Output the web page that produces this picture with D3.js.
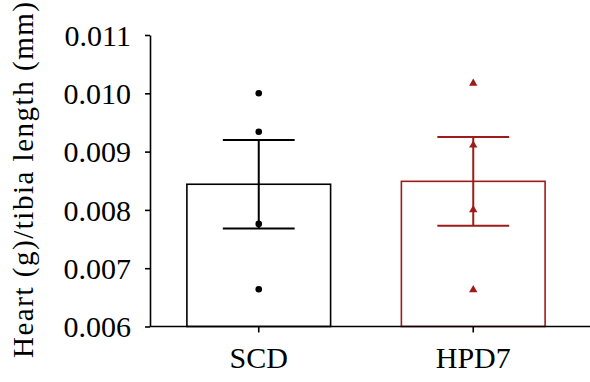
<!DOCTYPE html>
<html>
<head>
<meta charset="utf-8">
<script src="https://cdn.jsdelivr.net/npm/d3@7"></script>
<style>
  body { margin: 0; background: #fff; }
  text { font-family: "Liberation Serif", "DejaVu Serif", serif; }
</style>
</head>
<body>
<div id="chart"></div>
<script>
var groups = ["SCD", "HPD7"];
var means = [0.00844, 0.00849];
var sem = [0.00076, 0.00076];
var points = [
  [0.0100, 0.00934, 0.00776, 0.00664],
  [0.01017, 0.00911, 0.00800, 0.00663]
];
var colors = ["#000000", "#9e1b1b"];
var yTicks = [0.006, 0.007, 0.008, 0.009, 0.010, 0.011];

var width = 590, height = 382;

var svg = d3.select('#chart')
  .append('svg')
  .attr('width', width)
  .attr('height', height);

var y = d3.scaleLinear()
  .domain([0.006, 0.011])
  .range([326.5, 35]);

var x = d3.scaleBand()
  .domain(groups)
  .range([150, 582])
  .paddingInner(0.33)
  .paddingOuter(0.172);

// bars
svg.selectAll('rect.bar')
  .data(groups)
  .enter()
  .append('rect')
  .attr('class', 'bar')
  .attr('x', function(d){ return x(d); })
  .attr('y', function(d, i){ return y(means[i]); })
  .attr('width', x.bandwidth())
  .attr('height', function(d, i){ return y(0.006) - y(means[i]); })
  .style('fill', 'none')
  .style('stroke', function(d, i){ return colors[i]; })
  .style('stroke-width', 1.6);

// error bars
var capHalf = x.bandwidth() * 0.25;
groups.forEach(function(g, i){
  var cx = x(g) + x.bandwidth() / 2;
  var lo = means[i] - sem[i], hi = means[i] + sem[i];
  var eg = svg.append('g')
    .style('stroke', colors[i])
    .style('stroke-width', 2);
  eg.append('line')
    .attr('x1', cx).attr('x2', cx)
    .attr('y1', y(lo)).attr('y2', y(hi));
  eg.append('line')
    .attr('x1', cx - capHalf).attr('x2', cx + capHalf)
    .attr('y1', y(hi)).attr('y2', y(hi));
  eg.append('line')
    .attr('x1', cx - capHalf).attr('x2', cx + capHalf)
    .attr('y1', y(lo)).attr('y2', y(lo));

  var sym = i == 0 ? d3.symbolCircle : d3.symbolTriangle;
  var size = i == 0 ? 34 : 30;
  svg.selectAll('path.pt' + i)
    .data(points[i])
    .enter()
    .append('path')
    .attr('class', 'pt' + i)
    .attr('d', d3.symbol().type(sym).size(size))
    .attr('transform', function(d){ return 'translate(' + cx + ',' + y(d) + ')'; })
    .style('fill', colors[i]);
});

// y axis
var yAxis = svg.append('g')
  .attr('transform', 'translate(150,0)')
  .call(d3.axisLeft(y).tickValues(yTicks).tickFormat(d3.format('.3f')).tickSize(5).tickSizeOuter(0));
yAxis.select('.domain').style('stroke-width', 1.6);
yAxis.selectAll('.tick line').style('stroke-width', 1.6);
yAxis.selectAll('text')
  .attr('x', -19)
  .attr('dy', '0.34em')
  .style('font-size', '30px')
  .style('font-family', '"Liberation Serif", serif')
  .style('fill', '#000');

// x axis
var xAxis = svg.append('g')
  .attr('transform', 'translate(0,326.5)')
  .call(d3.axisBottom(x).tickSize(6).tickSizeOuter(0));
xAxis.select('.domain').remove();
xAxis.append('line')
  .attr('x1', 150).attr('x2', 590)
  .attr('y1', 0).attr('y2', 0)
  .style('stroke', '#000')
  .style('stroke-width', 1.6);
xAxis.selectAll('.tick line').style('stroke-width', 1.6);
xAxis.selectAll('.tick text')
  .attr('y', 20)
  .style('font-size', '30px')
  .style('font-family', '"Liberation Serif", serif')
  .style('fill', '#000');

// y label
svg.append('text')
  .attr('transform', 'translate(33,180) rotate(-90)')
  .attr('text-anchor', 'middle')
  .attr('textLength', 356)
  .attr('lengthAdjust', 'spacing')
  .style('font-size', '29px')
  .text('Heart (g)/tibia length (mm)');
</script>
</body>
</html>
